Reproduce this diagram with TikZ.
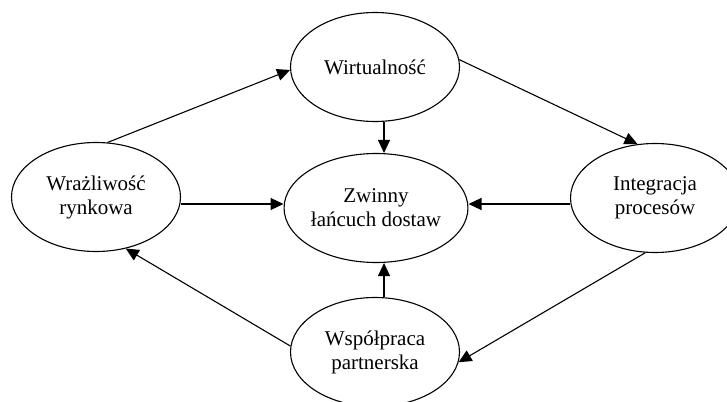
\documentclass[tikz,border=0pt]{standalone}
\usepackage{fontspec}
\setmainfont{Liberation Serif}
\usetikzlibrary{arrows.meta,shapes.geometric}

\begin{document}
\begin{tikzpicture}[x=1pt, y=-1pt, line width=1.1pt,
        every node/.style={font=\fontsize{21}{24}\selectfont, align=center},
        blob/.style={draw, ellipse, minimum width=169pt, minimum height=109pt, inner sep=0pt},
        link/.style={-{Triangle[length=13pt,width=12pt]}}]
    \useasboundingbox (0,0) rectangle (727,401);
    % the five ellipses
    \node[blob] (wirt) at (375,67) {Wirtualność};
    \node[blob] (wraz) at (96,197) {Wrażliwość\\rynkowa};
    \node[blob] (zwin) at (376,208) {Zwinny\\łańcuch dostaw};
    \node[blob] (integ) at (655,198) {Integracja\\procesów};
    \node[blob] (wspol) at (375,352) {Współpraca\\partnerska};
    % axes of the straight arrows
    \coordinate (h) at (0,204);
    \coordinate (v) at (384,0);
    % arrows round the outside
    \draw[link] (wraz.78) -- (wirt.182);
    \draw[link] (wirt.5) -- (integ.108);
    \draw[link] (integ.-100) -- (wspol.-7);
    \draw[link] (wspol.176) -- (wraz.-60);
    % arrows into the centre
    \draw[link] (wirt.south -| v) -- (zwin.north -| v);
    \draw[link] (wspol.north -| v) -- (zwin.south -| v);
    \draw[link] (wraz.east |- h) -- (zwin.west |- h);
    \draw[link] (integ.west |- h) -- (zwin.east |- h);
\end{tikzpicture}
\end{document}
